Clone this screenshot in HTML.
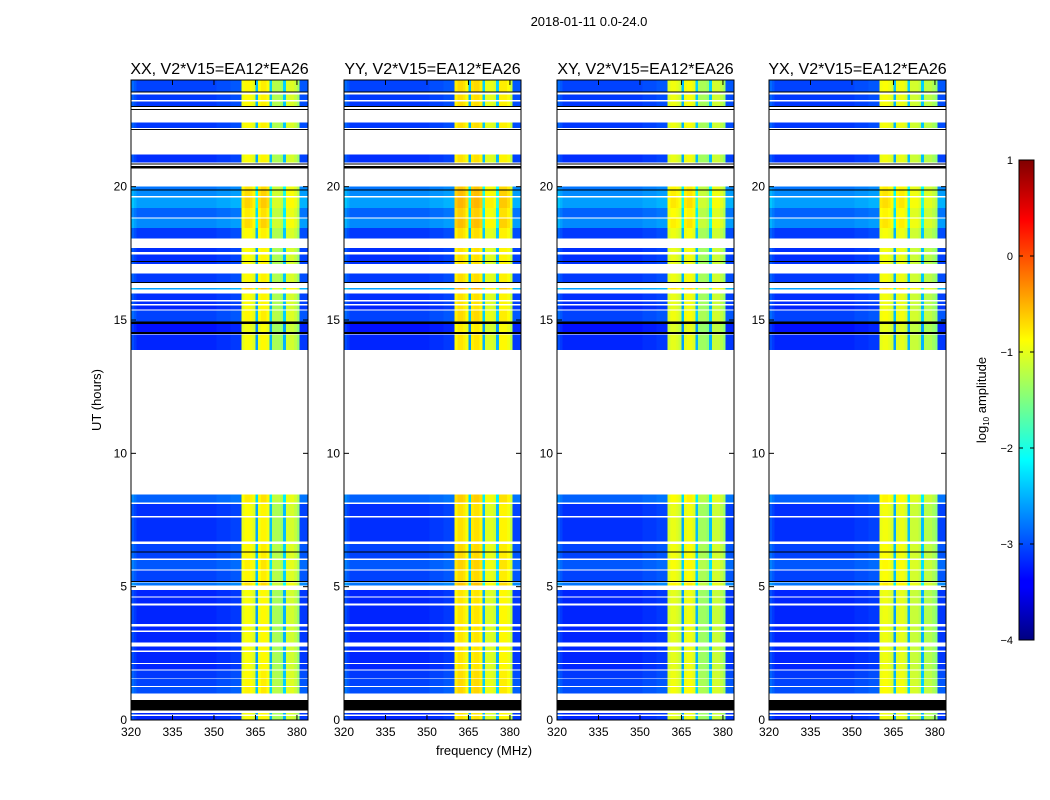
<!DOCTYPE html>
<html><head><meta charset="utf-8">
<style>
html,body{margin:0;padding:0;background:#fff;}
svg{display:block;font-family:"Liberation Sans",sans-serif;}
</style></head>
<body>
<svg id="fig" width="1050" height="800" viewBox="0 0 1050 800">
<defs>
<linearGradient id="jet" x1="0" y1="1" x2="0" y2="0">
<stop offset="0" stop-color="#000080"/><stop offset="0.11" stop-color="#0000ff"/>
<stop offset="0.125" stop-color="#0000ff"/><stop offset="0.375" stop-color="#00ffff"/>
<stop offset="0.5" stop-color="#80ff80"/><stop offset="0.625" stop-color="#ffff00"/>
<stop offset="0.875" stop-color="#ff0000"/><stop offset="1" stop-color="#800000"/>
</linearGradient>
</defs>
<text x="589" y="26" font-size="13" text-anchor="middle">2018-01-11 0.0-24.0</text>
<text x="484" y="755" font-size="13" text-anchor="middle">frequency (MHz)</text>
<text x="101" y="400" font-size="13" text-anchor="middle" transform="rotate(-90 101 400)">UT (hours)</text>
<g id="panels"></g>
<g>
<rect x="1019" y="160" width="15" height="480" fill="url(#jet)" stroke="#000" stroke-width="1"/>
<g id="cbticks"></g>
<text x="986" y="400" font-size="13" text-anchor="middle" transform="rotate(-90 986 400)">log<tspan font-size="8" dy="3">10</tspan><tspan dy="-3"> amplitude</tspan></text>
</g>
</svg>
<script>
// ---- data ----
const panelTitles = ["XX, V2*V15=EA12*EA26","YY, V2*V15=EA12*EA26","XY, V2*V15=EA12*EA26","YX, V2*V15=EA12*EA26"];
const freqStart = 320; // MHz, 1 MHz channels
// channel levels (log10 amplitude), 64 channels 320..383 MHz
const chanXX = [-3.0,-3.1,-3.2,-3.2,-3.2,-3.2,-3.2,-3.2,-3.2,-3.2,-3.2,-3.2,-3.2,-3.2,-3.2,-3.2,-3.2,-3.2,-3.2,-3.2,-3.2,-3.2,-3.2,-3.2,-3.2,-3.2,-3.2,-3.2,-3.2,-3.2,-3.2,-3.15,-3.15,-3.15,-3.15,-3.15,-3.1,-3.1,-3.1,-3.1,-1.0,-0.9,-0.9,-0.95,-1.05,-2.6,-0.95,-0.85,-0.85,-0.95,-2.5,-1.3,-1.3,-1.3,-1.4,-2.5,-1.1,-1.1,-1.1,-1.2,-1.4,-3.1,-3.1,-3.1];
const chanYY = [-3.0,-3.1,-3.2,-3.2,-3.2,-3.2,-3.2,-3.2,-3.2,-3.2,-3.2,-3.2,-3.2,-3.2,-3.2,-3.2,-3.2,-3.2,-3.2,-3.2,-3.2,-3.2,-3.2,-3.2,-3.2,-3.2,-3.2,-3.2,-3.2,-3.2,-3.2,-3.15,-3.15,-3.15,-3.15,-3.15,-3.1,-3.1,-3.1,-3.1,-0.85,-0.75,-0.75,-0.8,-0.95,-2.6,-0.8,-0.75,-0.75,-0.85,-2.5,-1.05,-1.05,-1.05,-1.15,-2.5,-0.85,-0.85,-0.85,-0.95,-1.2,-3.1,-3.1,-3.1];
const chanXY = [-3.0,-3.1,-3.2,-3.2,-3.2,-3.2,-3.2,-3.2,-3.2,-3.2,-3.2,-3.2,-3.2,-3.2,-3.2,-3.2,-3.2,-3.2,-3.2,-3.2,-3.2,-3.2,-3.2,-3.2,-3.2,-3.2,-3.2,-3.2,-3.2,-3.2,-3.2,-3.15,-3.15,-3.15,-3.15,-3.15,-3.1,-3.1,-3.1,-3.1,-1.1,-1.0,-1.0,-1.05,-1.15,-2.6,-1.0,-0.95,-0.95,-1.05,-2.5,-1.35,-1.35,-1.35,-1.45,-2.5,-1.15,-1.15,-1.15,-1.25,-1.4,-3.1,-3.1,-3.1];
const chanYX = [-3.0,-3.1,-3.2,-3.2,-3.2,-3.2,-3.2,-3.2,-3.2,-3.2,-3.2,-3.2,-3.2,-3.2,-3.2,-3.2,-3.2,-3.2,-3.2,-3.2,-3.2,-3.2,-3.2,-3.2,-3.2,-3.2,-3.2,-3.2,-3.2,-3.2,-3.2,-3.15,-3.15,-3.15,-3.15,-3.15,-3.1,-3.1,-3.1,-3.1,-1.0,-0.95,-0.95,-1.0,-1.1,-2.6,-1.05,-1.0,-1.0,-1.1,-2.5,-1.15,-1.15,-1.15,-1.25,-2.5,-1.25,-1.25,-1.25,-1.35,-1.45,-3.1,-3.1,-3.1];
// time segments with data: [startHour, endHour, rowOffset]
const segStart = [0.0,0.2,1.0,1.27,1.58,1.9,2.14,2.6,2.9,3.35,3.6,4.37,4.64,5.05,5.2,5.65,6.05,6.7,7.65,8.15,13.87,14.55,14.95,15.4,15.6,15.75,16.15,16.4,17.1,17.55,18.05,18.45,18.85,19.2,19.65,19.9,20.9,22.2,23.0,23.25,23.55];
const segEnd   = [0.15,0.27,1.24,1.55,1.85,2.1,2.55,2.75,3.3,3.5,4.3,4.6,4.87,5.15,5.6,6.0,6.6,7.6,8.1,8.45,14.45,14.85,15.35,15.55,15.7,16.0,16.2,16.75,17.45,17.7,18.45,18.8,19.2,19.6,19.85,20.0,21.2,22.4,23.2,23.45,24.0];
const segOffset= [0.0,0.0,0.2,0.15,0.1,0.0,0.0,0.0,0.0,0.0,0.0,0.0,0.0,0.4,0.15,0.25,0.15,0.05,0.05,0.3,0.0,-0.1,0.15,0.0,0.05,0.05,0.6,0.1,0.05,0.05,0.1,0.5,0.3,0.6,0.5,0.4,0.05,0.1,0.1,0.1,0.15];
// flagged (black) time ranges
const flagStart = [0.35,5.18,6.28,14.47,14.85,16.38,17.18,19.85,20.68,20.83,22.13,22.88,22.98,23.53];
const flagEnd   = [0.75,5.22,6.32,14.55,14.95,16.42,17.22,19.89,20.78,20.87,22.17,22.92,23.02,23.57];
const yTicks = [0,5,10,15,20];
const xTicks = [320,335,350,365,380];
const cbTicks = [1,0,-1,-2,-3,-4];

const chans = [chanXX,chanYY,chanXY,chanYX];
const panelLeft = [131,344,557,769];
const PW = 177, PT = 80, PB = 720;
const NS = "http://www.w3.org/2000/svg";
const yScale = h => PB - (h/24)*(PB-PT);
const xScale = (L,f) => L + (f-freqStart)/64*PW;
function clamp(v){return Math.max(0,Math.min(1,v));}
function jet(v){
  const t = clamp((v+4)/5);
  const r = clamp(1.5-Math.abs(4*t-3)), g = clamp(1.5-Math.abs(4*t-2)), b = clamp(1.5-Math.abs(4*t-1));
  return `rgb(${Math.round(r*255)},${Math.round(g*255)},${Math.round(b*255)})`;
}
function mk(tag, attrs, parent){const e=document.createElementNS(NS,tag);for(const k in attrs)e.setAttribute(k,attrs[k]);parent.appendChild(e);return e;}
const panelsG = document.getElementById('panels');
chans.forEach((ch,p)=>{
  const L = panelLeft[p];
  const g = mk('g',{},panelsG);
  
  
  const hm = mk('g',{'shape-rendering':'crispEdges'},g);
  
  
  for(let s=0;s<segStart.length;s++){
    const y1=yScale(segEnd[s]), y0=yScale(segStart[s]);
    for(let c=0;c<ch.length;c++){
      const x0=xScale(L,freqStart+c), x1=xScale(L,freqStart+c+1);
      let v = ch[c] + segOffset[s] * (ch[c] < -2 ? 1 : 0.4);
      const r = mk('rect',{x:x0.toFixed(2),y:y1.toFixed(2),width:(x1-x0+0.3).toFixed(2),height:(y0-y1).toFixed(2),fill:jet(v)},hm);
      
      
    }
  }
  for(let f=0;f<flagStart.length;f++){
    const y1=yScale(flagEnd[f]), y0=yScale(flagStart[f]);
    const r = mk('rect',{x:L,y:y1.toFixed(2),width:PW,height:Math.max(1,y0-y1).toFixed(2),fill:'#000'},hm);
    
    
  }
  const fr = mk('rect',{x:L,y:PT,width:PW,height:PB-PT,fill:'none',stroke:'#000','stroke-width':1},g);
  
  
  const t = mk('text',{x:L+PW/2,y:74,'font-size':16,'text-anchor':'middle'},g);
  t.textContent = panelTitles[p];
  
  
  yTicks.forEach(v=>{
    const y=yScale(v);
    mk('line',{x1:L,x2:L+5,y1:y,y2:y,stroke:'#000'},g);
    mk('line',{x1:L+PW-5,x2:L+PW,y1:y,y2:y,stroke:'#000'},g);
    const tx = mk('text',{x:L-4,y:y+4,'font-size':12,'text-anchor':'end'},g);
    tx.textContent = v;
    
    
  });
  xTicks.forEach(v=>{
    const x=xScale(L,v);
    mk('line',{x1:x,x2:x,y1:PB,y2:PB-5,stroke:'#000'},g);
    mk('line',{x1:x,x2:x,y1:PT,y2:PT+5,stroke:'#000'},g);
    const tx = mk('text',{x:x,y:PB+16,'font-size':12,'text-anchor':'middle'},g);
    tx.textContent = v;
    
    
  });
});
const cbg = document.getElementById('cbticks');
cbTicks.forEach(v=>{
  const y = 640 - (v+4)/5*480;
  mk('line',{x1:1019,x2:1023,y1:y,y2:y,stroke:'#000'},cbg);
  mk('line',{x1:1030,x2:1034,y1:y,y2:y,stroke:'#000'},cbg);
  const tx = mk('text',{x:1013,y:y+4,'font-size':11,'text-anchor':'end'},cbg);
  tx.textContent = v<0 ? '\u2212'+(-v) : v;
  
  
});
</script>
</body></html>
